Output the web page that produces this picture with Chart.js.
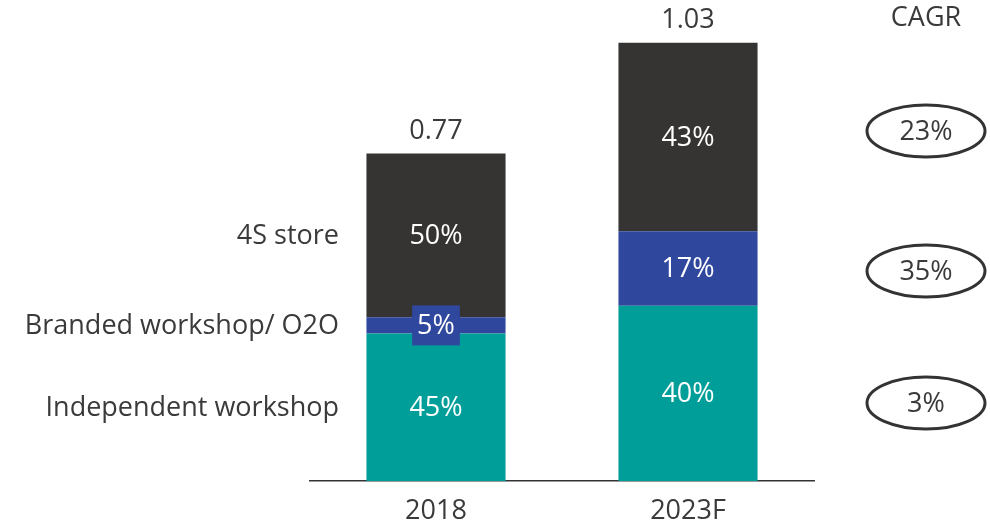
<!DOCTYPE html>
<html>
<head>
<meta charset="utf-8">
<script src="https://cdn.jsdelivr.net/npm/chart.js@4"></script>
<style>
  html,body{margin:0;padding:0;background:#fff}
  #wrap{width:990px;height:526px;position:relative}
</style>
</head>
<body>
<div id="wrap"><canvas id="c"></canvas></div>
<script>
// chart data
const years=['2018','2023F'];
const totals=[0.77,1.03];
const seriesNames=['Independent workshop','Branded workshop/ O2O','4S store'];
const indepShare=[45,40];
const brandedShare=[5,17];
const storeShare=[50,43];
const cagrLabels=['23%','35%','3%']; // 4S, branded, independent
const colors=['#009E99','#2F479D','#353433'];

const FONT='"Open Sans", "Noto Sans", sans-serif';
const FS=27;
const TXT='#3a3a3a';

const shares=[indepShare,brandedShare,storeShare];
const datasets=shares.map((s,i)=>({
  label:seriesNames[i],
  data:s.map((v,j)=>totals[j]*v/100),
  shares:s,
  backgroundColor:colors[i],
  borderWidth:0,
  categoryPercentage:1,
  barPercentage:0.552
}));

const labelsPlugin={
  id:'labels',
  afterDatasetsDraw(chart){
    const ctx=chart.ctx;
    ctx.save();
    ctx.font=FS+'px '+FONT;
    ctx.textBaseline='middle';
    // segment labels
    chart.data.datasets.forEach((ds,i)=>{
      chart.getDatasetMeta(i).data.forEach((bar,j)=>{
        const txt=ds.shares[j]+'%';
        const cy=(bar.y+bar.base)/2;
        const h=Math.abs(bar.base-bar.y);
        if(h<34){
          const w=ctx.measureText(txt).width+10;
          ctx.fillStyle=ds.backgroundColor;
          ctx.fillRect(bar.x-w/2,cy-20,w,40);
        }
        ctx.fillStyle='#fff';
        ctx.textAlign='center';
        ctx.fillText(txt,bar.x,cy+1);
      });
    });
    // totals
    const top=chart.getDatasetMeta(chart.data.datasets.length-1).data;
    ctx.fillStyle=TXT;
    top.forEach((bar,j)=>{
      ctx.fillText(totals[j].toFixed(2),bar.x,bar.y-22);
    });
    // series names next to first bar
    ctx.textAlign='right';
    chart.data.datasets.forEach((ds,i)=>{
      const bar=chart.getDatasetMeta(i).data[0];
      ctx.fillText(ds.label,339,(bar.y+bar.base)/2+1);
    });
    // CAGR column
    ctx.textAlign='center';
    const cx=926;
    ctx.fillText('CAGR',cx,18);
    const ys=[131,271,403];
    cagrLabels.forEach((t,k)=>{
      ctx.beginPath();
      ctx.ellipse(cx,ys[k],59,26,0,0,Math.PI*2);
      ctx.lineWidth=3;
      ctx.strokeStyle='#333';
      ctx.stroke();
      ctx.fillText(t,cx,ys[k]+1);
    });
    ctx.restore();
  }
};

new Chart(document.getElementById('c'),{
  type:'bar',
  data:{labels:years,datasets},
  options:{
    responsive:true,
    maintainAspectRatio:false,
    animation:false,
    layout:{padding:{left:310,right:176,top:13,bottom:0}},
    plugins:{legend:{display:false},tooltip:{enabled:false}},
    scales:{
      x:{
        stacked:true,
        grid:{display:false,drawTicks:false},
        border:{display:true,color:'#333',width:1.5},
        ticks:{color:TXT,padding:14,font:{family:FONT,size:FS}},
        afterFit(s){s.height=45;}
      },
      y:{
        stacked:true,
        display:false,
        min:0,
        max:1.1
      }
    }
  },
  plugins:[labelsPlugin]
});
</script>
</body>
</html>
